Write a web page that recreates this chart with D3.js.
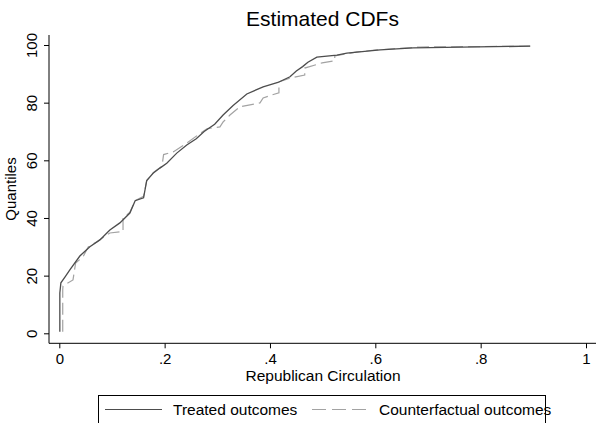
<!DOCTYPE html>
<html>
<head>
<meta charset="UTF-8">
<title>Estimated CDFs</title>
<style>
  body { margin: 0; background: #fff; }
  svg text { font-family: "Liberation Sans", Arial, sans-serif; fill: #000; }
  .curve { fill: none; }
</style>
<script src="https://d3js.org/d3.v7.min.js"></script>
</head>
<body>
<svg width="600" height="423"></svg>
<script>
// Treated outcomes: circulation values and their quantiles
var treatedX = [0.001, 0.001, 0.003, 0.011, 0.020, 0.039, 0.058, 0.077, 0.096, 0.115, 0.134, 0.144, 0.160, 0.166,
                0.178, 0.191, 0.204, 0.223, 0.242, 0.260, 0.275, 0.295, 0.311, 0.330, 0.356, 0.387, 0.415,
                0.438, 0.450, 0.462, 0.472, 0.489, 0.527, 0.546, 0.609, 0.672, 0.894];
var treatedQ = [0.5, 14, 17.5, 19.6, 22, 26.8, 30, 32.4, 35.8, 38.3, 41.7, 46, 47, 53,
                55.5, 57.3, 59, 62.5, 65.3, 67.5, 70, 72.5, 75.7, 79, 83, 85.5, 87,
                89, 91, 92.5, 94, 95.8, 96.5, 97.2, 98.3, 99, 99.6];

// Counterfactual outcomes
var counterX = [0.0065, 0.0065, 0.007, 0.026, 0.031, 0.045, 0.055, 0.071, 0.096, 0.121, 0.121, 0.134, 0.144, 0.160,
                0.166, 0.180, 0.195, 0.198, 0.217, 0.242, 0.267, 0.281, 0.305, 0.311, 0.324, 0.343, 0.381,
                0.387, 0.404, 0.417, 0.417, 0.438, 0.466, 0.466, 0.499, 0.523, 0.523, 0.565, 0.603, 0.685, 0.894];
var counterQ = [0.5, 15, 16.4, 18.5, 24.4, 26.5, 30, 31.7, 34.8, 35.3, 40, 42, 46, 47.5,
                53, 56, 58, 62, 63, 66, 69.3, 71, 71.6, 73.3, 75.7, 78.6, 79.9,
                81.6, 82.7, 83.4, 87.2, 88.5, 89.6, 92, 93.8, 94.5, 96.2, 97.6, 98.3, 99.3, 99.6];

var xTicks = [0, 0.2, 0.4, 0.6, 0.8, 1];
var yTicks = [0, 20, 40, 60, 80, 100];
var seriesNames = ["Treated outcomes", "Counterfactual outcomes"];

var svg = d3.select("svg");

var x = d3.scaleLinear().domain([0, 1]).range([59.3, 586]);
var y = d3.scaleLinear().domain([0, 100]).range([333.3, 45]);

var fmt = function(d) { return d === 0 || d === 1 ? String(d) : String(d).replace("0.", "."); };

// title
svg.append("text")
    .attr("x", 322.5).attr("y", 26)
    .attr("text-anchor", "middle")
    .style("font-size", "21px")
    .text("Estimated CDFs");

// axes
var xAxis = svg.append("g")
    .attr("transform", "translate(0,343.3)")
    .call(d3.axisBottom(x).tickValues(xTicks).tickSize(5).tickPadding(5).tickFormat(fmt));
xAxis.select(".domain").remove();
xAxis.selectAll("text").style("font-size", "15px").attr("font-family", null);
xAxis.append("line").attr("x1", 49).attr("x2", 596).attr("stroke", "#000");

var yAxis = svg.append("g")
    .attr("transform", "translate(49,0)")
    .call(d3.axisLeft(y).tickValues(yTicks).tickSize(5));
yAxis.select(".domain").remove();
yAxis.selectAll("text")
    .attr("transform", "rotate(-90)")
    .attr("x", 0).attr("y", -12).attr("dy", null)
    .attr("text-anchor", "middle")
    .style("font-size", "15px");
yAxis.append("line").attr("y1", 35).attr("y2", 343.3).attr("stroke", "#000");

// axis titles
svg.append("text")
    .attr("x", 323).attr("y", 381)
    .attr("text-anchor", "middle")
    .style("font-size", "15.5px")
    .text("Republican Circulation");

svg.append("text")
    .attr("transform", "translate(16,189) rotate(-90)")
    .attr("text-anchor", "middle")
    .style("font-size", "15px")
    .text("Quantiles");

// curves
var line = d3.line()
    .x(function(d) { return x(d[0]); })
    .y(function(d) { return y(d[1]); });

var counterData = d3.zip(counterX, counterQ);
var treatedData = d3.zip(treatedX, treatedQ);

svg.append("path")
    .datum(counterData)
    .attr("class", "curve")
    .attr("stroke", "#a3a3a3")
    .attr("stroke-width", 1.2)
    .attr("stroke-dasharray", "12,5")
    .attr("d", line);

svg.append("path")
    .datum(treatedData)
    .attr("class", "curve")
    .attr("stroke", "#4d4d4d")
    .attr("stroke-width", 1.3)
    .attr("d", line);

// legend
var legend = svg.append("g");
legend.append("rect")
    .attr("x", 98.5).attr("y", 395.5)
    .attr("width", 447).attr("height", 40)
    .attr("fill", "#fff").attr("stroke", "#000");

var legItems = [
    {name: seriesNames[0], color: "#4d4d4d", dash: null, x0: 105, tx: 173},
    {name: seriesNames[1], color: "#a3a3a3", dash: "14,6", x0: 312, tx: 379}
];
legItems.forEach(function(it) {
    legend.append("line")
        .attr("x1", it.x0).attr("x2", it.x0 + 57)
        .attr("y1", 409.5).attr("y2", 409.5)
        .attr("stroke", it.color).attr("stroke-width", 1.2)
        .attr("stroke-dasharray", it.dash);
    legend.append("text")
        .attr("x", it.tx).attr("y", 415)
        .style("font-size", "15.5px")
        .text(it.name);
});
</script>
</body>
</html>
